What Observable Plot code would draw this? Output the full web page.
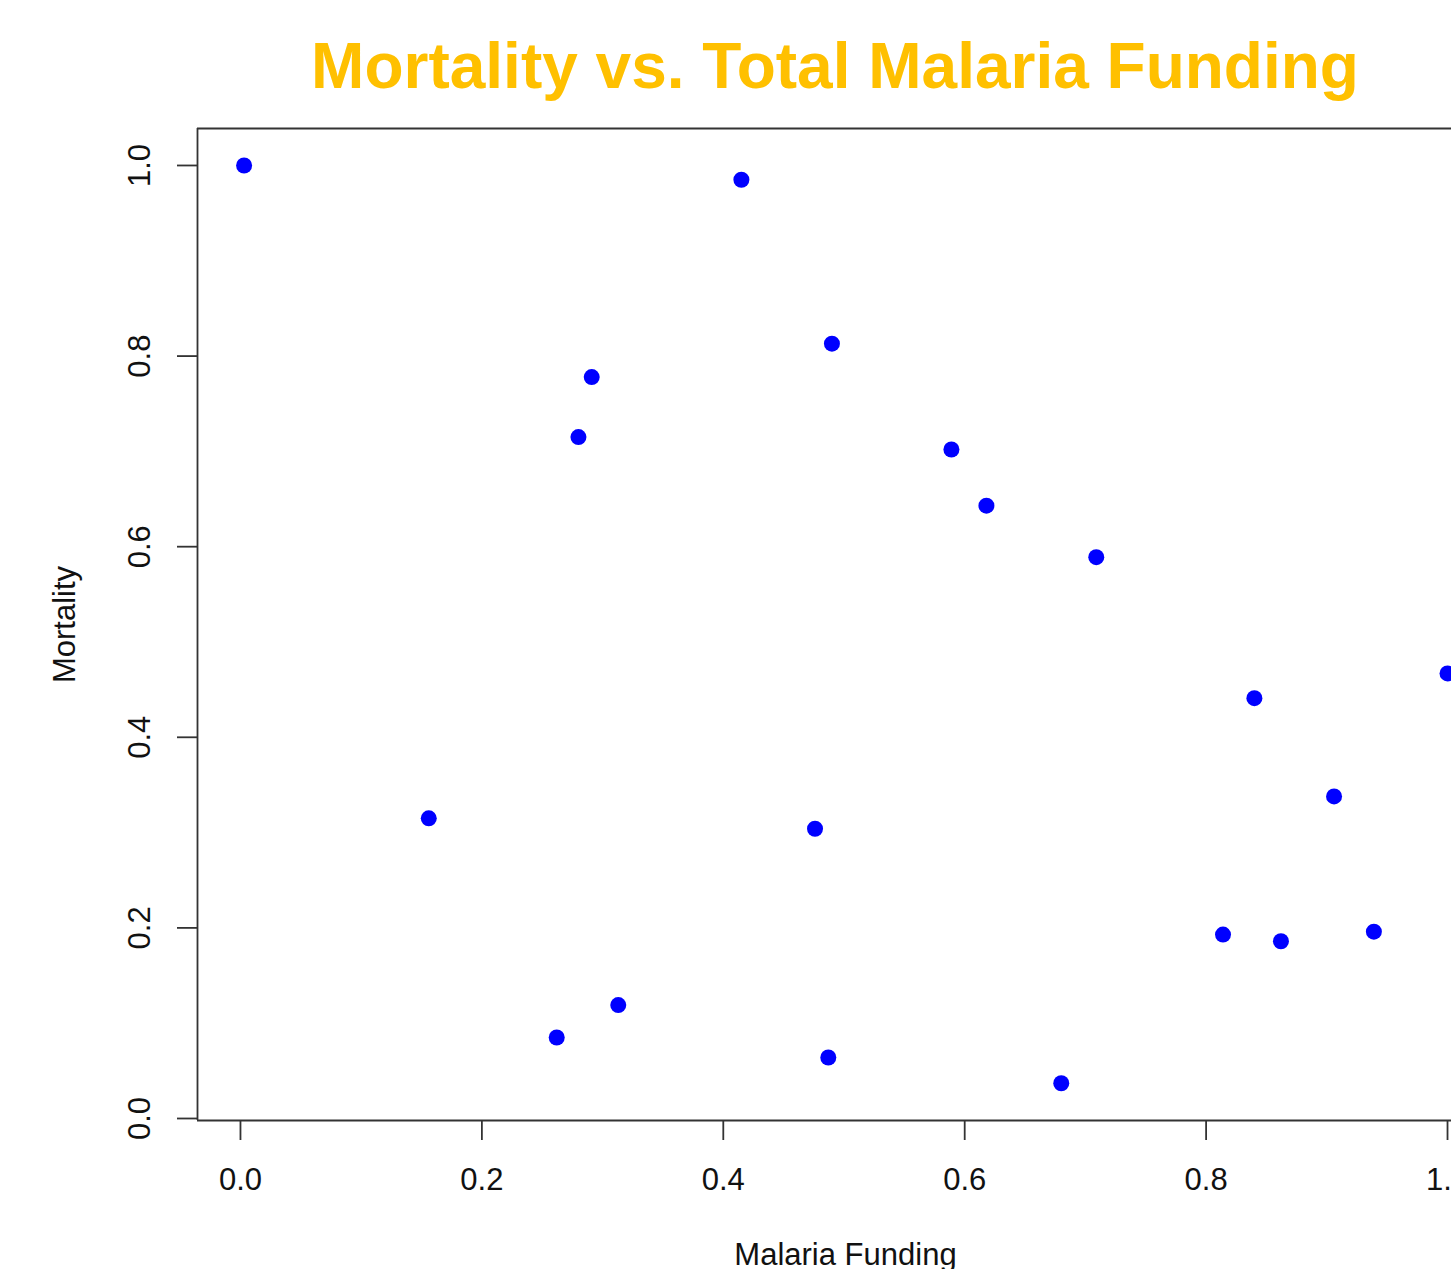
<!DOCTYPE html>
<html>
<head>
<meta charset="utf-8">
<script src="https://cdn.jsdelivr.net/npm/d3@7"></script>
<script src="https://cdn.jsdelivr.net/npm/@observablehq/plot@0.6"></script>
<style>
  html, body { margin: 0; padding: 0; background: #fff; width: 1451px; height: 1269px; overflow: hidden; position: relative; }
  #title { position: absolute; left: 835px; top: 34px; transform: translateX(-50%); white-space: nowrap;
           font-family: "Liberation Sans", Arial, sans-serif; font-weight: bold; font-size: 64px; line-height: 1; color: #FFC000; }
  #chart { position: absolute; left: 0; top: 110px; }
</style>
</head>
<body>
<div id="title">Mortality vs. Total Malaria Funding</div>
<div id="chart"></div>
<script>
const titleText = "Mortality vs. Total Malaria Funding";
const xLabel = "Malaria Funding";
const yLabel = "Mortality";

const funding   = [0.003, 0.415, 0.490, 0.291, 0.280, 0.589, 0.618, 0.709, 1.000, 0.840, 0.906, 0.156, 0.476, 0.814, 0.862, 0.939, 0.313, 0.262, 0.487, 0.680];
const mortality = [1.000, 0.985, 0.813, 0.778, 0.715, 0.702, 0.643, 0.589, 0.467, 0.441, 0.338, 0.315, 0.304, 0.193, 0.186, 0.196, 0.119, 0.085, 0.064, 0.037];

const xTicks = [0, 0.2, 0.4, 0.6, 0.8, 1.0];
const yTicks = [0, 0.2, 0.4, 0.6, 0.8, 1.0];

const xDomain = [-0.0356, 1.0033];
const yDomain = [-0.0021, 1.0388];

const data = funding.map((f, i) => ({funding: f, mortality: mortality[i]}));
const fmt = d3.format(".1f");
const axisColor = "#333";

const chart = Plot.plot({
  width: 1451,
  height: 1159,
  marginLeft: 197,
  marginRight: 0,
  marginTop: 18,
  marginBottom: 149,
  style: {fontFamily: "'Liberation Sans', Arial, sans-serif", fontSize: "31px", color: "#111", overflow: "hidden", background: "#fff"},
  x: {domain: xDomain},
  y: {domain: yDomain},
  marks: [
    Plot.ruleY([yDomain[1]], {stroke: axisColor, strokeWidth: 1.8}),
    Plot.ruleY([yDomain[0]], {stroke: axisColor, strokeWidth: 1.8}),
    Plot.ruleX([xDomain[0]], {stroke: axisColor, strokeWidth: 1.8}),
    Plot.axisX({ticks: xTicks, tickSize: 20, tickPadding: 27, tickFormat: fmt, label: null, stroke: axisColor, strokeWidth: 1.8, fontSize: 31}),
    Plot.axisY({ticks: yTicks, tickSize: 20, fill: "none", label: null, stroke: axisColor, strokeWidth: 1.8}),
    Plot.text(yTicks, {y: d => d, frameAnchor: "left", text: d => fmt(d), rotate: -90, textAnchor: "middle", lineAnchor: "middle", dx: -57, fontSize: 31, fill: "#111"}),
    Plot.text([yLabel], {frameAnchor: "left", text: d => d, rotate: -90, textAnchor: "middle", lineAnchor: "middle", dx: -132, fontSize: 31, fill: "#111"}),
    Plot.text([xLabel], {frameAnchor: "bottom", text: d => d, textAnchor: "middle", lineAnchor: "middle", dx: 21, dy: 135, fontSize: 31, fill: "#111"}),
    Plot.dot(data, {x: "funding", y: "mortality", r: 8, fill: "#0000ff", stroke: "none"})
  ]
});
document.getElementById("chart").appendChild(chart);
</script>
</body>
</html>
